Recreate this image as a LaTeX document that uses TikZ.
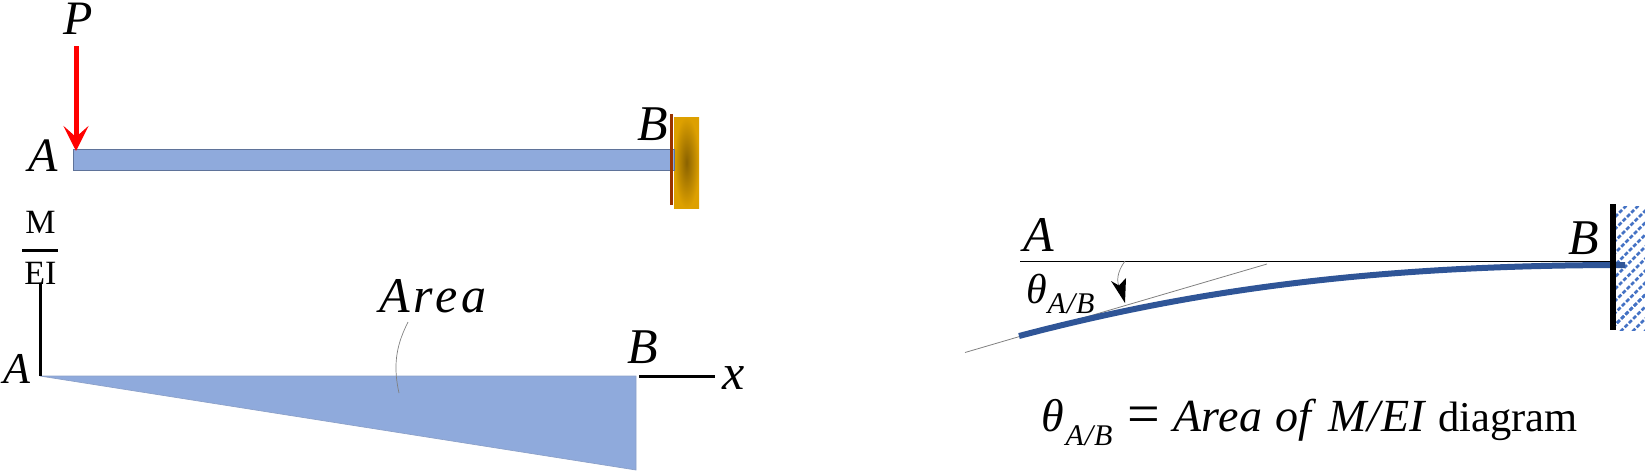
\documentclass[tikz,border=0pt]{standalone}
\usepackage{fontspec}
\setmainfont{Liberation Serif}
\usetikzlibrary{arrows.meta}
\definecolor{beamblue}{HTML}{8FAADC}
\definecolor{beamedge}{HTML}{5F7399}
\definecolor{curveblue}{HTML}{2F5597}
\definecolor{hatchblue}{HTML}{4472C4}
\definecolor{goldout}{HTML}{DDA000}
\definecolor{goldin}{HTML}{8A6200}
\definecolor{plate}{HTML}{993300}
\newcommand{\fsz}[1]{\fontsize{#1}{#1}\selectfont}
\newcommand{\subab}[1]{\raisebox{#1}{\fsz{30}\itshape\addfontfeature{LetterSpace=3}A/B}}
\tikzset{
  lab/.style={anchor=base west,inner sep=0pt,outer sep=0pt,font=\fsz{50}\itshape},
  upr/.style={anchor=base,inner sep=0pt,outer sep=0pt,font=\fsz{34}},
  thinblue/.style={draw=beamedge,line width=0.7pt,fill=beamblue},
  axis/.style={black,line width=3pt},
  leader/.style={gray,line width=0.7pt},
}
\begin{document}
\begin{tikzpicture}[x=1pt,y=-1pt]
\useasboundingbox (0,0) rectangle (1645,471);
\clip (0,0) rectangle (1645,471);
% top beam
\shade[inner color=goldin,outer color=goldout] (674,117) rectangle (699,208);
\path[thinblue] (73,149.5) rectangle (674,170);
\fill[plate] (670,114) rectangle (673,205);
\node[lab,font=\fsz{48}\itshape] (P) at (63,34) {P};
\node[lab,font=\fsz{48}\itshape] (A1) at (28,171) {A};
\node[lab] (B1) at (637,140) {B};
\coordinate (fs) at (76,46);
\coordinate (ft) at (76,151);
\draw[red,line width=5pt,-{Stealth[length=25pt,width=25pt,inset=11pt]}] (fs) -- (ft);
% M/EI diagram
\node[upr] (M) at (40.5,233) {M};
\node[upr] (EI) at (40.5,284) {EI};
\coordinate (rl) at (22,250);
\coordinate (rr) at (58,250);
\draw[axis] (rl) -- (rr);
\coordinate (o) at (40.5,283);
\coordinate (oo) at (40.5,376);
\path[draw=beamblue!80!gray,line width=0.7pt,fill=beamblue] (40,376) -- (636,376) -- (636,470) -- cycle;
\draw[axis] (o) -- (oo);
\node[lab,font=\fsz{44}\itshape] (A2) at (3,383) {A};
\node[lab] (B2) at (627,363) {B};
\node[lab] (X) at (722,389) {x};
\coordinate (xa) at (639,376);
\coordinate (xb) at (715,376);
\draw[axis] (xa) -- (xb);
\node[lab,font=\fsz{50}\itshape\addfontfeature{LetterSpace=8}] (Area) at (379,312) {Area};
\coordinate (la) at (408,322);
\coordinate (lb) at (399,393);
\draw[leader] (la) .. controls (398,342) and (392,362) .. (lb);
% deflected beam
\begin{scope}
\clip (1616,206) rectangle (1645,330);
\foreach \k in {0,...,13}{
  \draw[hatchblue,line width=2.6pt,dash pattern=on 4pt off 2pt] (1600+12*\k,340) -- (1600+12*\k+150,190);
  \draw[hatchblue,line width=2.6pt,dash pattern=on 4pt off 2pt] (1600-12*\k,340) -- (1600-12*\k+150,190);
}
\end{scope}
\coordinate (hl) at (1020,261);
\coordinate (hr) at (1611,261);
\draw[black,line width=1pt] (hl) -- (hr);
\coordinate (tl) at (965,352.5);
\coordinate (tr) at (1267,264);
\draw[gray,line width=0.8pt] (tl) -- (tr);
\coordinate (cl) at (1019,336);
\coordinate (cr) at (1625,265);
\draw[curveblue,line width=6pt] (cl) .. controls (1190,291) and (1370,265) .. (cr);
\coordinate (wt) at (1613,204);
\coordinate (wb) at (1613,330);
\draw[black,line width=6pt] (wt) -- (wb);
\coordinate (sa) at (1125,261);
\coordinate (sb) at (1125,303);
\draw[leader,-] (sa) .. controls (1117,272) and (1116,282) .. (1120,288);
\fill[black] (sb) -- (1111,281) -- (1119,285.5) -- (1126,278) -- cycle;
\node[lab] (A3) at (1023,251) {A};
\node[lab] (B3) at (1568,254) {B};
\node[lab,font=\fsz{42}\itshape] (T1) at (1026,303) {θ\hspace{1pt}\subab{-10pt}};
% formula
\node[anchor=base west,inner sep=0pt,outer sep=0pt,font=\fsz{46}] (F) at (1041,431)
  {\itshape θ\hspace{2pt}\subab{-14pt}\hspace{15pt}{\upshape\fsz{58}\raisebox{-2pt}{=}}\hspace{13pt}\itshape{\addfontfeature{LetterSpace=1.5}Area of}\hspace{17pt}{\addfontfeature{LetterSpace=1.5}M/EI}\hspace{13pt}{\upshape\fsz{42.5}diagram}};
\end{tikzpicture}
\end{document}
